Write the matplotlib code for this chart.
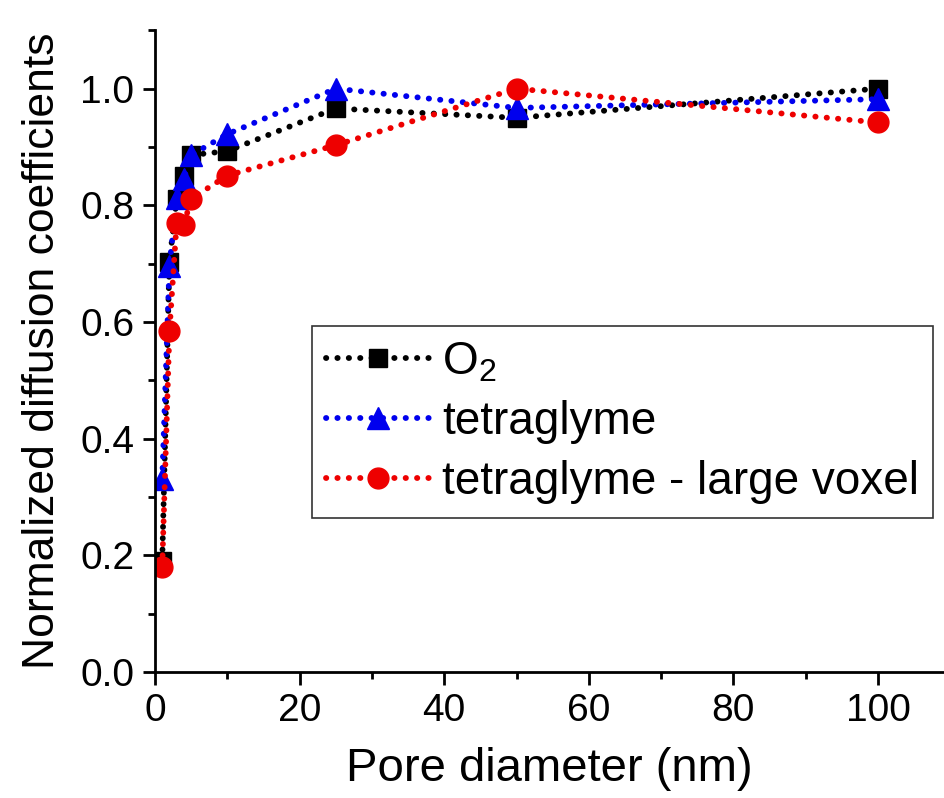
import matplotlib
matplotlib.use("Agg")
import matplotlib.pyplot as plt
from matplotlib.ticker import MultipleLocator

plt.rcParams['font.family'] = ['Liberation Sans', 'DejaVu Sans']
plt.rcParams['mathtext.default'] = 'regular'

pore = [1, 2, 3, 4, 5, 10, 25, 50, 100]
d_o2 = [0.19, 0.703, 0.811, 0.851, 0.886, 0.893, 0.966, 0.950, 1.0]
d_tetra = [0.33, 0.696, 0.812, 0.845, 0.886, 0.922, 1.0, 0.967, 0.982]
d_tetra_large = [0.18, 0.584, 0.770, 0.767, 0.811, 0.851, 0.903, 1.0, 0.942]

labels = ['O$_2$', 'tetraglyme', 'tetraglyme - large voxel']
colors = ['black', '#0000ee', '#ee0000']
markers = ['s', '^', 'o']
msizes = [13, 16, 15]

fig = plt.figure(figsize=(9.45, 7.98), dpi=100)
ax = fig.add_axes([0.164, 0.158, 0.834, 0.804])

# round dots roughly 6 px wide, one every ~12 px
dots = (0, (0.05, 1.9))
for ys, lab, c, m, ms in zip([d_o2, d_tetra, d_tetra_large], labels, colors, markers, msizes):
    ax.plot(pore, ys, color=c, marker=m, markersize=ms, linewidth=4.2,
            linestyle=dots, dash_capstyle='round', label=lab)

ax.set_xlim(0, 109)
ax.set_ylim(0, 1.1)
ax.xaxis.set_major_locator(MultipleLocator(20))
ax.xaxis.set_minor_locator(MultipleLocator(10))
ax.yaxis.set_major_locator(MultipleLocator(0.2))
ax.yaxis.set_minor_locator(MultipleLocator(0.1))
ax.yaxis.set_major_formatter(plt.FormatStrFormatter('%.1f'))

for side in ['top', 'right']:
    ax.spines[side].set_visible(False)
for side in ['left', 'bottom']:
    ax.spines[side].set_linewidth(2)
ax.tick_params(which='major', direction='out', length=9, width=2, labelsize=28, pad=6)
ax.tick_params(which='minor', direction='out', length=5, width=2)

ax.set_xlabel('Pore diameter (nm)', fontsize=34, labelpad=13)
ax.set_ylabel('Normalized diffusion coefficients', fontsize=32, labelpad=12)

leg = ax.legend(loc='lower left', bbox_to_anchor=(0.199, 0.24),
                fontsize=33, frameon=True, fancybox=False, edgecolor='black',
                handlelength=2.3, handletextpad=0.25, borderpad=0.3,
                labelspacing=0.35, borderaxespad=0)
leg.get_frame().set_linewidth(1.2)

fig.savefig('out.png', dpi=100)
